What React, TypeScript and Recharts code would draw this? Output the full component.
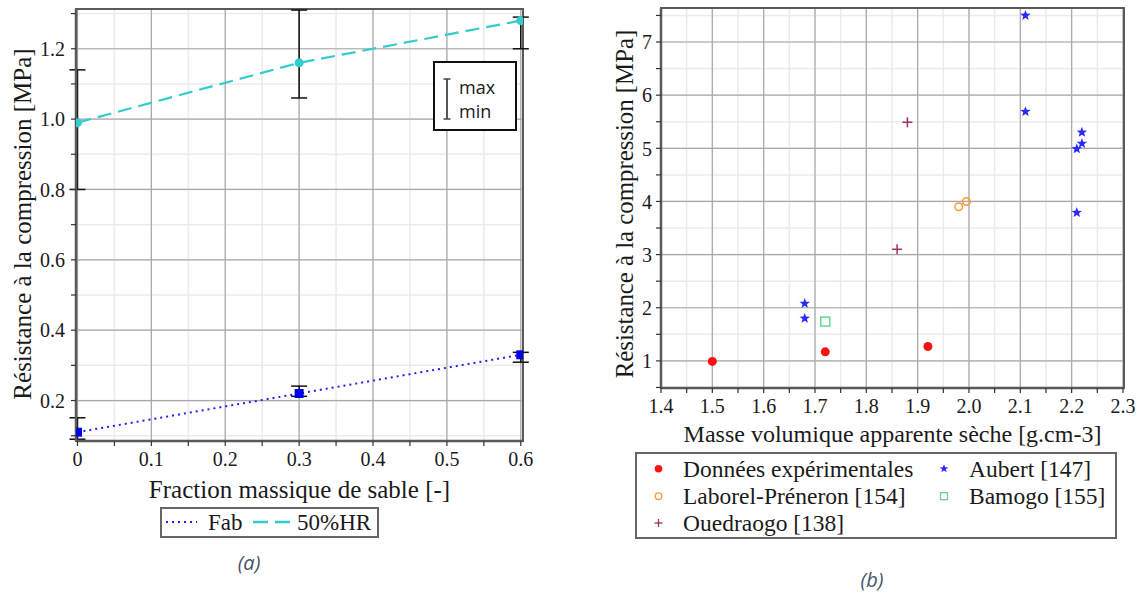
import React from 'react';
import {
  ComposedChart,
  ScatterChart,
  Line,
  Scatter,
  XAxis,
  YAxis,
  CartesianGrid,
  ErrorBar,
  ReferenceArea,
  Legend,
  Label,
} from 'recharts';

// ---------- Chart (a) data ----------
const sandFraction = [0, 0.3, 0.6];
const fabValues = [0.11, 0.22, 0.33];
const fabMin = [0.09, 0.212, 0.309];
const fabMax = [0.151, 0.241, 0.337];
const hrValues = [0.99, 1.16, 1.28];
const hrMin = [0.8, 1.06, 1.2];
const hrMax = [1.14, 1.31, 1.29];

const leftXTicks = [0, 0.05, 0.1, 0.15, 0.2, 0.25, 0.3, 0.35, 0.4, 0.45, 0.5, 0.55, 0.6];
const leftXMajor = [0, 0.1, 0.2, 0.3, 0.4, 0.5, 0.6];
const leftYTicks = [0.1, 0.2, 0.3, 0.4, 0.5, 0.6, 0.7, 0.8, 0.9, 1.0, 1.1, 1.2, 1.3];
const leftYMajor = [0.2, 0.4, 0.6, 0.8, 1.0, 1.2];
const leftXDomain = [-0.002, 0.603];
const leftYDomain = [0.085, 1.313];

// ---------- Chart (b) data ----------
const expX = [1.5, 1.72, 1.92];
const expY = [0.99, 1.17, 1.27];
const aubertX = [2.11, 2.11, 2.21, 2.22, 2.22, 2.21, 1.68, 1.68];
const aubertY = [7.5, 5.69, 4.99, 5.09, 5.3, 3.79, 2.08, 1.8];
const laborelX = [1.98, 1.995];
const laborelY = [3.9, 4.0];
const bamogoX = [1.72];
const bamogoY = [1.74];
const ouedraogoX = [1.86, 1.88];
const ouedraogoY = [3.1, 5.49];

const rightXTicks = [1.4, 1.45, 1.5, 1.55, 1.6, 1.65, 1.7, 1.75, 1.8, 1.85, 1.9, 1.95, 2.0, 2.05, 2.1, 2.15, 2.2, 2.25, 2.3];
const rightXMajor = [1.4, 1.5, 1.6, 1.7, 1.8, 1.9, 2.0, 2.1, 2.2, 2.3];
const rightYTicks = [0.5, 1, 1.5, 2, 2.5, 3, 3.5, 4, 4.5, 5, 5.5, 6, 6.5, 7, 7.5];
const rightYMajor = [1, 2, 3, 4, 5, 6, 7];
const rightXDomain = [1.4, 2.302];
const rightYDomain = [0.49, 7.64];

const seriesNamesA = ['Fab', '50%HR'];
const seriesNamesB = [
  'Données expérimentales',
  'Aubert [147]',
  'Laborel-Préneron [154]',
  'Bamogo [155]',
  'Ouedraogo [138]',
];

// ---------- styles ----------
const SERIF = '"Liberation Serif", "Times New Roman", serif';
const SANS = '"Open Sans", "Noto Sans", sans-serif';
const TEXT = '#1a1a1a';
const AXIS = '#5a5a5a';
const MINOR = '#ebebeb';
const MAJOR = '#a8a8a8';
const BLUE = '#1f1fff';
const CYAN = '#33cccc';
const RED = '#ff1010';
const STAR = '#2a2aff';
const ORANGE = '#ff9933';
const GREEN = '#66d98a';
const PURPLE = '#993366';

const serifStyle = { fontFamily: SERIF };

const leftData = sandFraction.map((x, i) => ({
  x,
  fab: fabValues[i],
  fabErr: [fabValues[i] - fabMin[i], fabMax[i] - fabValues[i]],
  hr: hrValues[i],
  hrErr: [hrValues[i] - hrMin[i], hrMax[i] - hrValues[i]],
}));

const toPts = (xs: number[], ys: number[]) => xs.map((x, i) => ({ x, y: ys[i] }));
const expData = toPts(expX, expY);
const aubertData = toPts(aubertX, aubertY);
const laborelData = toPts(laborelX, laborelY);
const bamogoData = toPts(bamogoX, bamogoY);
const ouedraogoData = toPts(ouedraogoX, ouedraogoY);

const isIn = (list: number[], v: number) => list.some((m) => Math.abs(m - v) < 1e-6);

const xTick = (majors: number[], fmt: (v: number) => string) => (props: any) => {
  const { x, y, payload } = props;
  if (!isIn(majors, payload.value)) return <g />;
  return (
    <text x={x} y={y} dy="0.71em" textAnchor="middle" style={serifStyle} fontFamily={SERIF} fontSize={20} fill={TEXT}>
      {fmt(payload.value)}
    </text>
  );
};

const yTick = (majors: number[], fmt: (v: number) => string) => (props: any) => {
  const { x, y, payload } = props;
  if (!isIn(majors, payload.value)) return <g />;
  return (
    <text x={x} y={y} dy="0.36em" textAnchor="end" style={serifStyle} fontFamily={SERIF} fontSize={20} fill={TEXT}>
      {fmt(payload.value)}
    </text>
  );
};

const starPoints = (cx: number, cy: number, R: number, r: number) => {
  const pts: string[] = [];
  for (let k = 0; k < 10; k++) {
    const rad = k % 2 === 0 ? R : r;
    const a = -Math.PI / 2 + (k * Math.PI) / 5;
    pts.push(`${cx + rad * Math.cos(a)},${cy + rad * Math.sin(a)}`);
  }
  return pts.join(' ');
};

const ExpShape = (p: any) => <circle cx={p.cx} cy={p.cy} r={4.5} fill={RED} />;
const AubertShape = (p: any) => <polygon points={starPoints(p.cx, p.cy, 5.5, 2.3)} fill={STAR} />;
const LaborelShape = (p: any) => <circle cx={p.cx} cy={p.cy} r={3.8} fill="none" stroke={ORANGE} strokeWidth={1.5} />;
const BamogoShape = (p: any) => (
  <rect x={p.cx - 4.5} y={p.cy - 4.5} width={9} height={9} fill="none" stroke={GREEN} strokeWidth={1.5} />
);
const OuedraogoShape = (p: any) => (
  <g stroke={PURPLE} strokeWidth={1.5}>
    <line x1={p.cx - 5} y1={p.cy} x2={p.cx + 5} y2={p.cy} />
    <line x1={p.cx} y1={p.cy - 5} x2={p.cx} y2={p.cy + 5} />
  </g>
);

const SquareDot = (p: any) => (
  <rect key={`sq-${p.index}`} x={p.cx - 4.5} y={p.cy - 4.5} width={9} height={9} fill="#0000e6" />
);
const CircleDot = (p: any) => <circle key={`ci-${p.index}`} cx={p.cx} cy={p.cy} r={4.5} fill={CYAN} />;

const LegendA = () => (
  <svg width={219} height={31} style={{ display: 'block' }}>
    <rect x={1} y={1} width={217} height={29} fill="#fff" stroke="#666" strokeWidth={2} />
    <line x1={6} y1={15} x2={37} y2={15} stroke={BLUE} strokeWidth={2} strokeDasharray="2 4" />
    <text x={48} y={23} style={serifStyle} fontFamily={SERIF} fontSize={23} fill={TEXT}>{seriesNamesA[0]}</text>
    <line x1={93} y1={15} x2={130} y2={15} stroke={CYAN} strokeWidth={2.5} strokeDasharray="15 7" />
    <text x={137} y={23} style={serifStyle} fontFamily={SERIF} fontSize={23} fill={TEXT}>{seriesNamesA[1]}</text>
  </svg>
);

const LegendB = () => {
  const rows = [16.7, 44.2, 71];
  const c1m = 23.5;
  const c1t = 48;
  const c2m = 309;
  const c2t = 334;
  const fs = 23.5;
  const tdy = 8;
  return (
    <svg width={482} height={87} style={{ display: 'block' }}>
      <rect x={1} y={1} width={480} height={85} fill="#fff" stroke="#666" strokeWidth={2} />
      <circle cx={c1m} cy={rows[0]} r={3.8} fill={RED} />
      <text x={c1t} y={rows[0] + tdy} style={serifStyle} fontFamily={SERIF} fontSize={fs} fill={TEXT}>{seriesNamesB[0]}</text>
      <polygon points={starPoints(c2m, rows[0], 4.5, 1.9)} fill={STAR} />
      <text x={c2t} y={rows[0] + tdy} style={serifStyle} fontFamily={SERIF} fontSize={fs} fill={TEXT}>{seriesNamesB[1]}</text>
      <circle cx={c1m} cy={rows[1]} r={3.3} fill="none" stroke={ORANGE} strokeWidth={1.3} />
      <text x={c1t} y={rows[1] + tdy} style={serifStyle} fontFamily={SERIF} fontSize={fs} fill={TEXT}>{seriesNamesB[2]}</text>
      <rect x={c2m - 3.5} y={rows[1] - 3.5} width={7} height={7} fill="none" stroke={GREEN} strokeWidth={1.3} />
      <text x={c2t} y={rows[1] + tdy} style={serifStyle} fontFamily={SERIF} fontSize={fs} fill={TEXT}>{seriesNamesB[3]}</text>
      <g stroke={PURPLE} strokeWidth={1.3}>
        <line x1={c1m - 4} y1={rows[2]} x2={c1m + 4} y2={rows[2]} />
        <line x1={c1m} y1={rows[2] - 4} x2={c1m} y2={rows[2] + 4} />
      </g>
      <text x={c1t} y={rows[2] + tdy} style={serifStyle} fontFamily={SERIF} fontSize={fs} fill={TEXT}>{seriesNamesB[4]}</text>
    </svg>
  );
};

const xTitle = (text: string, dyBase: number, fs: number) => (props: any) => {
  const vb = props.viewBox || {};
  return (
    <text x={vb.x + vb.width / 2} y={vb.y + dyBase} textAnchor="middle" style={serifStyle} fontFamily={SERIF} fontSize={fs} fill={TEXT}>
      {text}
    </text>
  );
};

const yTitle = (text: string, xPos: number, yShift: number, fs: number) => (props: any) => {
  const vb = props.viewBox || {};
  const cx = vb.x + xPos;
  const cy = vb.y + vb.height / 2 + yShift;
  return (
    <text
      x={cx}
      y={cy}
      transform={`rotate(-90 ${cx} ${cy})`}
      textAnchor="middle"
      dominantBaseline="central"
      style={serifStyle}
      fontFamily={SERIF}
      fontSize={fs}
      fill={TEXT}
    >
      {text}
    </text>
  );
};

const fmt1 = (v: number) => (v === 0 ? '0' : v.toFixed(1));
const fmtInt = (v: number) => String(Math.round(v));

const captionStyle: React.CSSProperties = {
  position: 'absolute',
  width: 80,
  textAlign: 'center',
  fontFamily: SANS,
  fontStyle: 'italic',
  fontSize: 20,
  lineHeight: '26px',
  color: '#44546a',
};

export default function App() {
  return (
    <div style={{ position: 'absolute', left: 0, top: 0, width: 1145, height: 594, background: '#fff', overflow: 'hidden' }}>
      {/* Chart (a) */}
      <div style={{ position: 'absolute', left: 0, top: 0 }}>
        <ComposedChart width={560} height={594} data={leftData} margin={{ top: 9, right: 37, bottom: 93, left: 0 }}>
          <CartesianGrid stroke={MINOR} strokeWidth={1.5} />
          <CartesianGrid stroke={MAJOR} strokeWidth={1.2} horizontalValues={leftYMajor} verticalValues={leftXMajor} />
          <ReferenceArea
            x1={leftXDomain[0]}
            x2={leftXDomain[1]}
            y1={leftYDomain[0]}
            y2={leftYDomain[1]}
            fill="none"
            stroke={AXIS}
            strokeWidth={2}
            ifOverflow="visible"
          />
          <XAxis
            type="number"
            dataKey="x"
            domain={leftXDomain}
            ticks={leftXTicks}
            allowDataOverflow
            interval={0}
            height={60}
            tickSize={5}
            tickMargin={6}
            axisLine={{ stroke: AXIS, strokeWidth: 2.5 }}
            tickLine={{ stroke: '#333', strokeWidth: 1.2 }}
            tick={xTick(leftXMajor, fmt1)}
          >
            <Label content={xTitle('Fraction massique de sable [-]', 56.5, 25)} />
          </XAxis>
          <YAxis
            type="number"
            domain={leftYDomain}
            ticks={leftYTicks}
            allowDataOverflow
            interval={0}
            width={76}
            tickSize={5}
            tickMargin={6}
            axisLine={{ stroke: AXIS, strokeWidth: 2.5 }}
            tickLine={{ stroke: '#333', strokeWidth: 1.2 }}
            tick={yTick(leftYMajor, fmt1)}
          >
            <Label content={yTitle('Résistance à la compression [MPa]', 22, -1, 25)} />
          </YAxis>
          <Line
            dataKey="fab"
            name={seriesNamesA[0]}
            stroke={BLUE}
            strokeWidth={2}
            strokeDasharray="2 4"
            dot={SquareDot}
            isAnimationActive={false}
          >
            <ErrorBar dataKey="fabErr" direction="y" width={8} stroke="#111" strokeWidth={1.5} />
          </Line>
          <Line
            dataKey="hr"
            name={seriesNamesA[1]}
            stroke={CYAN}
            strokeWidth={2.2}
            strokeDasharray="14 7"
            dot={CircleDot}
            isAnimationActive={false}
          >
            <ErrorBar dataKey="hrErr" direction="y" width={8} stroke="#111" strokeWidth={1.5} />
          </Line>
          <Legend
            layout="horizontal"
            verticalAlign="middle"
            align="center"
            content={LegendA}
            wrapperStyle={{ left: 160, top: 507, width: 219, height: 31 }}
          />
        </ComposedChart>
      </div>

      {/* max / min key */}
      <div style={{ position: 'absolute', left: 433, top: 61, width: 84, height: 70 }}>
        <svg width={84} height={70} style={{ display: 'block' }}>
          <rect x={1} y={1} width={82} height={68} fill="#fff" stroke="#111" strokeWidth={2} />
          <line x1={14} y1={18} x2={14} y2={58} stroke="#444" strokeWidth={1.8} />
          <line x1={10.5} y1={18} x2={17.5} y2={18} stroke="#444" strokeWidth={1.5} />
          <line x1={10.5} y1={58} x2={17.5} y2={58} stroke="#444" strokeWidth={1.5} />
          <text x={26} y={33} fontFamily={SANS} fontSize={18} fill={TEXT}>max</text>
          <text x={26} y={57} fontFamily={SANS} fontSize={18} fill={TEXT}>min</text>
        </svg>
      </div>

      {/* Chart (b) */}
      <div style={{ position: 'absolute', left: 580, top: 0 }}>
        <ScatterChart width={565} height={594} margin={{ top: 8, right: 21, bottom: 146, left: 0 }}>
          <CartesianGrid stroke={MINOR} strokeWidth={1.5} />
          <CartesianGrid stroke={MAJOR} strokeWidth={1.2} horizontalValues={rightYMajor} verticalValues={rightXMajor} />
          <ReferenceArea
            x1={rightXDomain[0]}
            x2={rightXDomain[1]}
            y1={rightYDomain[0]}
            y2={rightYDomain[1]}
            fill="none"
            stroke={AXIS}
            strokeWidth={2}
            ifOverflow="visible"
          />
          <XAxis
            type="number"
            dataKey="x"
            domain={rightXDomain}
            ticks={rightXTicks}
            allowDataOverflow
            interval={0}
            height={60}
            tickSize={5}
            tickMargin={6}
            axisLine={{ stroke: AXIS, strokeWidth: 2.5 }}
            tickLine={{ stroke: '#333', strokeWidth: 1.2 }}
            tick={xTick(rightXMajor, fmt1)}
          >
            <Label content={xTitle('Masse volumique apparente sèche [g.cm-3]', 54, 24)} />
          </XAxis>
          <YAxis
            type="number"
            dataKey="y"
            domain={rightYDomain}
            ticks={rightYTicks}
            allowDataOverflow
            interval={0}
            width={81}
            tickSize={5}
            tickMargin={4}
            axisLine={{ stroke: AXIS, strokeWidth: 2.5 }}
            tickLine={{ stroke: '#333', strokeWidth: 1.2 }}
            tick={yTick(rightYMajor, fmtInt)}
          >
            <Label content={yTitle('Résistance à la compression [MPa]', 44, 6, 24.8)} />
          </YAxis>
          <Scatter name={seriesNamesB[0]} data={expData} dataKey="y" shape={ExpShape} isAnimationActive={false} />
          <Scatter name={seriesNamesB[1]} data={aubertData} dataKey="y" shape={AubertShape} isAnimationActive={false} />
          <Scatter name={seriesNamesB[2]} data={laborelData} dataKey="y" shape={LaborelShape} isAnimationActive={false} />
          <Scatter name={seriesNamesB[3]} data={bamogoData} dataKey="y" shape={BamogoShape} isAnimationActive={false} />
          <Scatter name={seriesNamesB[4]} data={ouedraogoData} dataKey="y" shape={OuedraogoShape} isAnimationActive={false} />
          <Legend
            layout="horizontal"
            verticalAlign="middle"
            align="center"
            content={LegendB}
            wrapperStyle={{ left: 55, top: 452, width: 482, height: 87 }}
          />
        </ScatterChart>
      </div>

      {/* captions */}
      <div style={{ ...captionStyle, left: 209, top: 550 }}>(a)</div>
      <div style={{ ...captionStyle, left: 832, top: 567 }}>(b)</div>
    </div>
  );
}
